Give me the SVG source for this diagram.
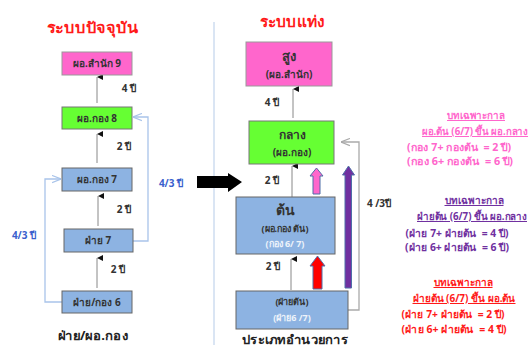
<svg xmlns="http://www.w3.org/2000/svg" width="532" height="349" viewBox="0 0 532 349">
<defs>
<style>
text{font-family:"Noto Sans","DejaVu Sans",sans-serif;font-weight:bold;text-anchor:middle}
.t{font-size:10px;fill:#333}
.lb{font-size:10px;fill:#333}
.title{font-size:15px;fill:#ff1a1a}
.cap{font-size:12.5px;fill:#222}
.blue{font-size:10px;fill:#3a5fcd}
.pk{fill:#ff66cc;stroke:#999;stroke-width:1}
.gr{fill:#66ff33;stroke:#777;stroke-width:1}
.bl{fill:#8db3e2;stroke:#666;stroke-width:1}
.w{fill:#eef3fb;font-size:9px}
.ln{stroke:#888;stroke-width:1;fill:none}
.bc{stroke:#a9c4ea;stroke-width:1.3;fill:none}
.gc{stroke:#aaa;stroke-width:1.3;fill:none}
.a1{font-size:10px;fill:#ff66cc}
.a2{font-size:10px;fill:#7030a0}
.a3{font-size:10px;fill:#ff1a1a}
.u{text-decoration:underline}
</style>
<marker id="ah" viewBox="0 0 6 6" refX="3" refY="0" markerWidth="6" markerHeight="6" orient="auto-start-reverse" markerUnits="userSpaceOnUse">
<path d="M0,6 L3,0 L6,6 Z" fill="#111"/>
</marker>
<marker id="oa" viewBox="0 0 10 10" refX="10" refY="5" markerWidth="9" markerHeight="9" orient="auto" markerUnits="userSpaceOnUse">
<path d="M0,1 L10,5 L0,9" fill="none" stroke="context-stroke" stroke-width="1.3"/>
</marker>
</defs>
<rect width="532" height="349" fill="#fff"/>

<text class="title" x="92" y="33" textLength="91" lengthAdjust="spacingAndGlyphs">ระบบปัจจุบัน</text>
<text class="title" x="292" y="27" textLength="65" lengthAdjust="spacingAndGlyphs">ระบบแท่ง</text>
<line x1="214" y1="22" x2="214" y2="345" stroke="#b5cbe8" stroke-width="1"/>

<g id="connectors">
<line class="ln" x1="97" y1="103" x2="97" y2="77" marker-end="url(#ah)"/>
<line class="ln" x1="97" y1="163" x2="97" y2="134" marker-end="url(#ah)"/>
<line class="ln" x1="98" y1="226" x2="98" y2="196" marker-end="url(#ah)"/>
<line class="ln" x1="97" y1="288" x2="97" y2="258" marker-end="url(#ah)"/>
<polyline class="bc" points="62,302 45,302 45,179 61,179" marker-end="url(#oa)"/>
<polyline class="bc" points="133,241 148,241 148,117 133,117" marker-end="url(#oa)"/>
<text class="lb" x="129" y="92">4 ปี</text>
<text class="lb" x="124" y="150">2 ปี</text>
<text class="lb" x="124" y="213">2 ปี</text>
<text class="lb" x="118" y="273">2 ปี</text>
<text class="blue" x="24" y="239">4/3 ปี</text>
<text class="blue" x="171" y="187">4/3 ปี</text>

<path d="M197,176 L228,176 L228,173 L242,182 L228,192 L228,188 L197,188 Z" fill="#000"/>

<line class="ln" x1="293" y1="118" x2="293" y2="89" marker-end="url(#ah)"/>
<line class="ln" x1="292" y1="197" x2="292" y2="166" marker-end="url(#ah)"/>
<line class="ln" x1="291" y1="290" x2="291" y2="259" marker-end="url(#ah)"/>
<polyline class="gc" points="348,310 359,310 359,142 341,142" marker-end="url(#oa)"/>
<path d="M313,194 L313,176 L310,176 L316.5,168 L323,176 L320,176 L320,194 Z" fill="#ff66cc" stroke="#4f6fa8" stroke-width="1"/>
<path d="M345,288 L345,175 L342.5,175 L348.5,166 L354.5,175 L351.5,175 L351.5,288 Z" fill="#7030a0" stroke="#4f6fa8" stroke-width="1"/>
<path d="M313,289 L313,266 L310,266 L317.5,256 L325,266 L322,266 L322,289 Z" fill="#ff0000" stroke="#4f6fa8" stroke-width="1"/>
<text class="lb" x="272" y="106">4 ปี</text>
<text class="lb" x="272" y="184">2 ปี</text>
<text class="lb" x="273" y="270">2 ปี</text>
<text class="lb" x="379" y="207">4 /3ปี</text>
</g>

<g id="n-l9"><rect class="pk" x="62" y="52" width="70" height="23"/><text class="t" x="97" y="67">ผอ.สำนัก 9</text></g>
<g id="n-l8"><rect class="gr" x="62" y="107" width="70" height="22"/><text class="t" x="97" y="122">ผอ.กอง 8</text></g>
<g id="n-l7"><rect class="bl" x="62" y="168" width="70" height="23"/><text class="t" x="97" y="183">ผอ.กอง 7</text></g>
<g id="n-f7"><rect class="bl" x="64" y="229" width="69" height="23"/><text class="t" x="98" y="244">ฝ่าย 7</text></g>
<g id="n-f6"><rect class="bl" x="62" y="291" width="70" height="22"/><text class="t" x="97" y="306">ฝ่าย/กอง 6</text></g>
<text class="cap" x="93" y="340" textLength="70" lengthAdjust="spacingAndGlyphs">ฝ่าย/ผอ.กอง</text>

<g id="n-high"><rect class="pk" x="246" y="42" width="86" height="44"/><text class="t" x="289" y="61" style="font-size:13px">สูง</text><text class="t" x="289" y="78">(ผอ.สำนัก)</text></g>
<g id="n-mid"><rect class="gr" x="249" y="121" width="85" height="43"/><text class="t" x="292" y="139" style="font-size:12px">กลาง</text><text class="t" x="292" y="156">(ผอ.กอง)</text></g>
<g id="n-low"><rect class="bl" x="236" y="197" width="99" height="57"/><text class="t" x="285" y="215" style="font-size:14px">ต้น</text><text class="t" x="285" y="232" style="font-size:9px">(ผอ.กอง ต้น)</text><text class="w" x="285" y="247">(กอง 6/ 7)</text></g>
<g id="n-fl"><rect class="bl" x="236" y="291" width="112" height="38"/><text class="t" x="292" y="305" style="font-size:9px">(ฝ่ายต้น)</text><text class="w" x="292" y="321">(ฝ่าย6 /7)</text></g>
<text class="cap" x="295" y="344" textLength="106" lengthAdjust="spacingAndGlyphs">ประเภทอำนวยการ</text>

<g id="notes">
<text class="a1 u" x="476" y="119" textLength="58" lengthAdjust="spacingAndGlyphs">บทเฉพาะกาล</text>
<text class="a1 u" x="475" y="135" textLength="106" lengthAdjust="spacingAndGlyphs">ผอ.ต้น (6/7) ขึ้น ผอ.กลาง</text>
<text class="a1" x="459" y="151" xml:space="preserve" textLength="104" lengthAdjust="spacingAndGlyphs">(กอง 7+ กองต้น  = 2 ปี)</text>
<text class="a1" x="460" y="165" xml:space="preserve" textLength="106" lengthAdjust="spacingAndGlyphs">(กอง 6+ กองต้น  = 6 ปี)</text>
<text class="a2 u" x="474" y="204" textLength="59" lengthAdjust="spacingAndGlyphs">บทเฉพาะกาล</text>
<text class="a2 u" x="472" y="220" textLength="110" lengthAdjust="spacingAndGlyphs">ฝ่ายต้น (6/7) ขึ้น ผอ.กลาง</text>
<text class="a2" x="457" y="237" xml:space="preserve" textLength="103" lengthAdjust="spacingAndGlyphs">(ฝ่าย 7+ ฝ่ายต้น  = 4 ปี)</text>
<text class="a2" x="457" y="251" xml:space="preserve" textLength="104" lengthAdjust="spacingAndGlyphs">(ฝ่าย 6+ ฝ่ายต้น  = 6 ปี)</text>
<text class="a3 u" x="463" y="286" textLength="59" lengthAdjust="spacingAndGlyphs">บทเฉพาะกาล</text>
<text class="a3 u" x="464" y="302" textLength="103" lengthAdjust="spacingAndGlyphs">ฝ่ายต้น (6/7) ขึ้น ผอ.ต้น</text>
<text class="a3" x="453" y="318" xml:space="preserve" textLength="103" lengthAdjust="spacingAndGlyphs">(ฝ่าย 7+ ฝ่ายต้น  = 2 ปี)</text>
<text class="a3" x="454" y="333" xml:space="preserve" textLength="105" lengthAdjust="spacingAndGlyphs">(ฝ่าย 6+ ฝ่ายต้น  = 4 ปี)</text>
</g>
</svg>
